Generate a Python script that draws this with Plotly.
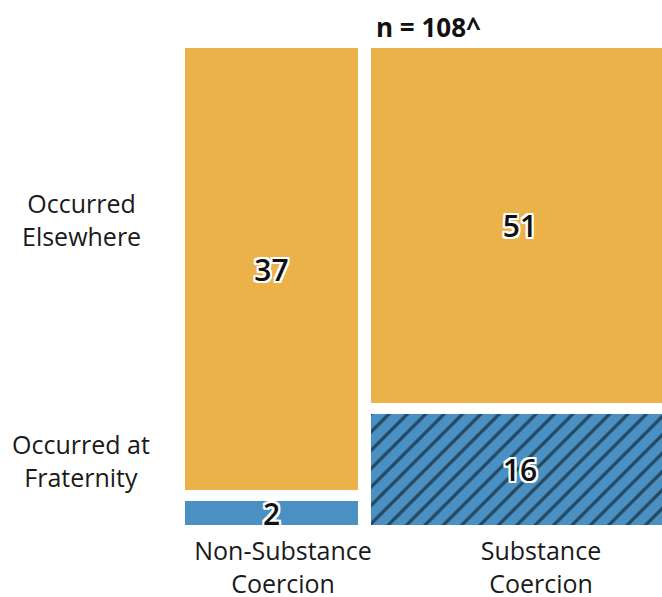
import plotly.graph_objects as go

# counts
groups = ["Non-Substance<br>Coercion", "Substance<br>Coercion"]
at_fraternity = [2, 16]
elsewhere = [37, 51]
rows = ["Occurred<br>Elsewhere", "Occurred at<br>Fraternity"]
n_label = "n = 108^"

ORANGE = "#EAB249"
BLUE = "#4A90C2"
FONT = "Open Sans"

totals = [a + b for a, b in zip(at_fraternity, elsewhere)]
xgap = 3.0
ygap = 0.023

starts = []
pos = 0.0
for t in totals:
    starts.append(pos)
    pos += t + xgap
centers = [s + t / 2 for s, t in zip(starts, totals)]

blue_h = [(1 - ygap) * f / t for f, t in zip(at_fraternity, totals)]
orange_base = [h + ygap for h in blue_h]
orange_h = [(1 - ygap) * e / t for e, t in zip(elsewhere, totals)]

halo = ("2px 0 0 #fff, -2px 0 0 #fff, 0 2px 0 #fff, 0 -2px 0 #fff, "
        "2px 2px 0 #fff, -2px -2px 0 #fff, 2px -2px 0 #fff, -2px 2px 0 #fff")
num_font = dict(family=FONT, size=30, weight=600, color="#111", shadow=halo)

fig = go.Figure()
fig.add_trace(go.Bar(
    x=centers, y=blue_h, base=[0, 0], width=totals,
    marker=dict(color=BLUE, line=dict(width=0),
                pattern=dict(shape=["", "/"], fgcolor="black", bgcolor=BLUE,
                             size=13, solidity=0.25)),
    text=[str(v) for v in at_fraternity], textposition="inside",
    insidetextanchor="middle", textangle=0, constraintext="none",
    textfont=num_font, hoverinfo="skip", showlegend=False,
))
fig.add_trace(go.Bar(
    x=centers, y=orange_h, base=orange_base, width=totals,
    marker=dict(color=ORANGE, line=dict(width=0)),
    text=[str(v) for v in elsewhere], textposition="inside",
    insidetextanchor="middle", textangle=0, constraintext="none",
    textfont=num_font, hoverinfo="skip", showlegend=False,
))

lab_font = dict(family=FONT, size=25, color="#1a1a1a")

# row labels on the left
fig.add_annotation(x=-0.218, y=0.6415, xref="paper", yref="paper", text=rows[0],
                   xanchor="center", yanchor="middle",
                   showarrow=False, align="center", font=lab_font)
fig.add_annotation(x=-0.218, y=0.136, xref="paper", yref="paper", text=rows[1],
                   xanchor="center", yanchor="middle",
                   showarrow=False, align="center", font=lab_font)
fig.add_annotation(x=0.511, y=1.0, xref="paper", yref="paper",
                   xanchor="center", yanchor="middle", yshift=21,
                   text="<b>" + n_label + "</b>", showarrow=False,
                   font=dict(family=FONT, size=26, color="#111"))

fig.update_layout(
    width=662, height=597,
    margin=dict(l=185, r=0, t=48, b=72),
    barmode="overlay", bargap=0,
    plot_bgcolor="white", paper_bgcolor="white",
    xaxis=dict(range=[0, 107.53], showgrid=False, zeroline=False, showline=False,
               tickvals=[centers[0] + 2.6, centers[1] + 4.75], ticktext=groups,
               ticks="", ticklabelstandoff=9, tickfont=lab_font, automargin=False),
    yaxis=dict(range=[0, 1], visible=False),
)

fig.write_html("out.html", config={"displayModeBar": False},
               post_script="document.body.style.margin = '0';")
